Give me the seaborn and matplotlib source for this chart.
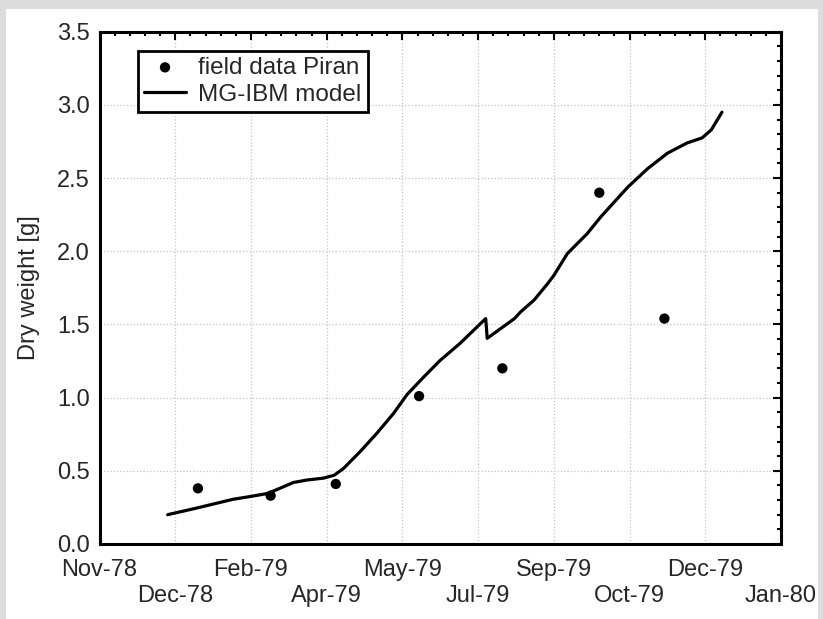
import numpy as np
import pandas as pd
import matplotlib
matplotlib.use("Agg")
import matplotlib.pyplot as plt
import matplotlib.dates as mdates
from matplotlib.ticker import FuncFormatter, FixedLocator, MultipleLocator
from matplotlib.patches import Rectangle
import seaborn as sns

# ---- data ----
start = "1978-11-06"
field_dates = ["1979-01-10", "1979-02-27", "1979-04-11", "1979-06-05",
               "1979-07-30", "1979-10-02", "1979-11-14"]
field_weight = [0.38, 0.33, 0.41, 1.01, 1.20, 2.40, 1.54]

# model output, days after start
model_day = [45, 64, 88, 100, 111, 119, 128, 137, 148, 155, 161, 172, 183, 194,
             203, 214, 225, 238, 255, 256, 274, 278, 287, 296, 300, 309, 322,
             331, 349, 362, 375, 388, 398, 404, 411]
model_weight = [0.20, 0.245, 0.305, 0.325, 0.345, 0.38, 0.42, 0.437, 0.45, 0.47,
                0.515, 0.63, 0.755, 0.89, 1.02, 1.14, 1.255, 1.37, 1.54, 1.405,
                1.54, 1.585, 1.667, 1.78, 1.835, 1.985, 2.12, 2.235, 2.44, 2.565,
                2.67, 2.74, 2.775, 2.83, 2.95]

field = pd.DataFrame({"date": pd.to_datetime(field_dates), "weight": field_weight})
model = pd.DataFrame({"date": pd.Timestamp(start) + pd.to_timedelta(model_day, unit="D"),
                      "weight": model_weight})

sns.set_style("white")
plt.rcParams["font.family"] = ["Liberation Sans", "DejaVu Sans"]
plt.rcParams["font.size"] = 17

fig = plt.figure(figsize=(8.23, 6.19), dpi=100, facecolor="#dcdcdc")
fig.patches.append(Rectangle((6 / 823, 0), 812 / 823, 610 / 619,
                             transform=fig.transFigure, facecolor="white",
                             edgecolor="none", zorder=-1))
ax = fig.add_axes([0.1209, 0.1212, 0.8281, 0.8276])

sns.scatterplot(data=field, x="date", y="weight", ax=ax, color="black", s=55,
                edgecolor="none", label="field data Piran", zorder=3)
sns.lineplot(data=model, x="date", y="weight", ax=ax, color="black", lw=2.3,
             estimator=None, sort=True, label="MG-IBM model")

base = mdates.date2num(pd.Timestamp(start))
ax.set_xlim(base, base + 450)
ax.xaxis.set_major_locator(FixedLocator(base + np.arange(0, 451, 50)))
ax.xaxis.set_minor_locator(FixedLocator(base + np.arange(0, 451, 10)))
ax.xaxis.set_major_formatter(FuncFormatter(
    lambda v, pos: ("\n" if (pos or 0) % 2 else "") + mdates.num2date(v).strftime("%b-%y")))

ax.set_ylim(0, 3.5)
ax.yaxis.set_major_locator(MultipleLocator(0.5))
ax.yaxis.set_minor_locator(MultipleLocator(0.1))
ax.yaxis.set_major_formatter(FuncFormatter(lambda v, pos: f"{v:.1f}"))

ax.set_xlabel("")
ax.set_ylabel("Dry weight [g]", fontsize=17, labelpad=12)

ax.tick_params(which="both", direction="in", top=True, right=True, color="black",
               width=1.5, labelsize=17)
ax.tick_params(which="major", length=6)
ax.tick_params(which="minor", length=3)
ax.tick_params(axis="x", which="major", pad=11)
ax.tick_params(axis="y", which="major", pad=7)

for sp in ax.spines.values():
    sp.set_visible(True)
    sp.set_color("black")
    sp.set_linewidth(2.2)

ax.grid(True, which="major", color="#c4c4c4", linestyle=":", linewidth=0.9)
ax.set_axisbelow(True)

leg = ax.legend(loc="upper left", bbox_to_anchor=(0.056, 0.963), borderaxespad=0,
                frameon=True, fancybox=False, edgecolor="black", framealpha=1,
                fontsize=17.5, handlelength=1.75, borderpad=0.25, labelspacing=0.2,
                handletextpad=0.5, markerscale=1.0)
leg.get_frame().set_linewidth(2)

fig.savefig("out.png", dpi=100, facecolor=fig.get_facecolor())
